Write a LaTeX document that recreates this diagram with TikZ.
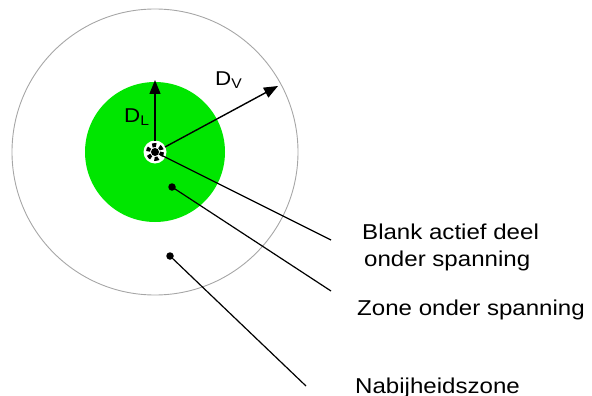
\documentclass[tikz,border=0pt]{standalone}
\usepackage{fontspec}
\setmainfont{Liberation Sans}
\newfontfamily\lblfont[FakeStretch=1.12]{Liberation Sans}
\usetikzlibrary{arrows.meta}
\definecolor{zonegreen}{RGB}{0,230,0}
\begin{document}
\begin{tikzpicture}[x=1pt,y=-1pt,
  lbl/.style={font=\lblfont\fontsize{21.5}{27}\selectfont, anchor=base west, align=left, inner sep=0pt},
  dlbl/.style={font=\lblfont\fontsize{20}{24}\selectfont, anchor=base west, inner sep=0pt},
  conn/.style={draw=black, line width=1.2pt},
  arr/.style={draw=black, line width=1.4pt, -{Triangle[length=14pt,width=11pt]}},
  dotmark/.style={circle, fill=black, inner sep=0pt, minimum size=7.5pt}]
\useasboundingbox (0,0) rectangle (592,396);
\coordinate (c) at (155,152);
% outer zone
\draw[gray!70, line width=0.9pt] (c) circle[radius=143];
% green zone
\fill[zonegreen] (c) circle[radius=70];
% live part
\fill[white] (c) circle[radius=11.5];
\draw[black, line width=4pt, dash pattern=on 4pt off 3.5pt] (c) circle[radius=7];
\node[dotmark, minimum size=8pt] (cd) at (c) {};
% arrows
\coordinate (dls) at (155,141);
\coordinate (dle) at (155,80);
\draw[arr] (dls) -- (dle);
\coordinate (dvs) at (165,147);
\coordinate (dve) at (278,86);
\draw[arr] (dvs) -- (dve);
\node[dlbl] (dl) at (124,122) {D\textsubscript{L}};
\node[dlbl] (dv) at (215,85) {D\textsubscript{V}};
% dots
\node[dotmark] (d1) at (172,187) {};
\node[dotmark] (d2) at (170,256) {};
% labels
\node[lbl] (t1) at (362,239) {Blank actief deel};
\node[lbl] (t1b) at (364,266) {onder spanning};
\node[lbl] (t2) at (357,315) {Zone onder spanning};
\node[lbl] (t3) at (355,393) {Nabijheidszone};
% connectors
\coordinate (e1) at (331,240);
\coordinate (e2) at (331,291);
\coordinate (e3) at (306,386);
\draw[conn] (cd) -- (e1);
\draw[conn] (d1.center) -- (e2);
\draw[conn] (d2.center) -- (e3);
\end{tikzpicture}
\end{document}
